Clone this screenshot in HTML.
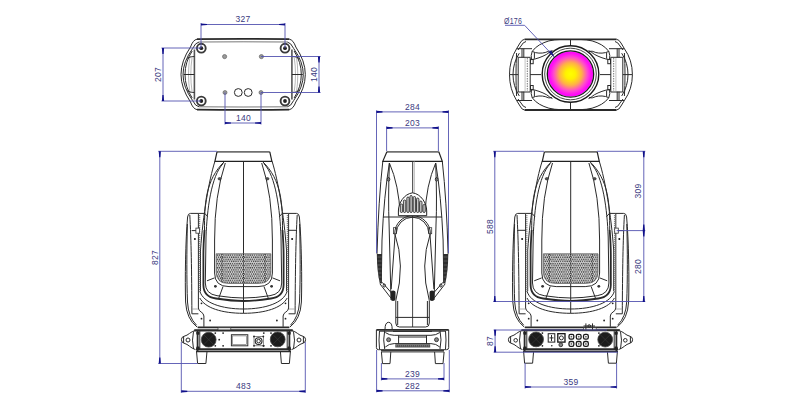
<!DOCTYPE html>
<html><head><meta charset="utf-8">
<style>
html,body{margin:0;padding:0;background:#fff;width:800px;height:415px;overflow:hidden}
svg{display:block}
.d{fill:none;stroke:#2a2a2a;stroke-width:1}
.t{fill:none;stroke:#2a2a2a;stroke-width:1.8}
.m{fill:none;stroke:#5454b0;stroke-width:0.9}
.a{fill:#10108a;stroke:none}
.x{font-family:"Liberation Sans",sans-serif;font-size:8.5px;fill:#3a3a80;letter-spacing:0.3px}
</style></head>
<body>
<svg width="800" height="415" viewBox="0 0 800 415">
<defs>
<radialGradient id="lens" cx="0.5" cy="0.5" r="0.5">
<stop offset="0" stop-color="#ffff00"/>
<stop offset="0.22" stop-color="#fff200"/>
<stop offset="0.5" stop-color="#ffb048"/>
<stop offset="0.75" stop-color="#ff48d0"/>
<stop offset="0.9" stop-color="#ff10f4"/>
<stop offset="1" stop-color="#ff00ff"/>
</radialGradient>
<marker id="ar" viewBox="0 0 10 6" refX="10" refY="3" markerWidth="7" markerHeight="3" orient="auto-start-reverse" markerUnits="userSpaceOnUse">
<path d="M0,0 L10,3 L0,6 z" fill="#3030a0"/>
</marker>
<pattern id="hex" x="0" y="0" width="2.2" height="4.2" patternUnits="userSpaceOnUse">
<rect width="2.2" height="4.2" fill="#d8d8d8"/>
<circle cx="0.55" cy="1.05" r="0.75" fill="#3a3a3a"/><circle cx="1.65" cy="3.15" r="0.75" fill="#3a3a3a"/>
</pattern>
</defs>

<!-- ================= VIEW 1 : bottom view ================= -->
<g id="v1">
<path class="t" d="M197,39.2 Q243,38.7 289.3,39.2 M197,109.6 Q243,110.1 289.3,109.6"/>
<path d="M199,42 Q243,41.6 287.3,42 M199,106.8 Q243,107.2 287.3,106.8" stroke="#555" stroke-width="0.8" fill="none"/>
<g id="h1">
<path class="d" d="M197,39.2 Q193,39.8 190.5,47 Q181,61 181,74.5 Q181,88 190.5,102 Q193,109 197,109.6" stroke-width="1.2"/>
<path class="d" d="M199,42 Q195.5,42.5 192.6,48.5 Q183,62 183,74.5 Q183,87 192.6,100.5 Q195.5,106.5 199,106.8" stroke-width="0.8"/>
<path d="M194.4,49.5 V99.5" stroke="#555" stroke-width="1.6" fill="none"/>
<path class="d" d="M192.2,51 Q185,62 185,74.5 Q185,87 192.2,98" stroke-width="0.6"/>
<path d="M190,56 Q188.5,65 188.5,74.5 Q188.5,84 190,93 M192,58 Q190.8,66 190.8,74.5 Q190.8,83 192,91" stroke="#888" stroke-width="0.6" fill="none"/>
<path class="d" d="M183.5,74.5 H194.4" stroke-width="0.7"/>
<path class="d" d="M187.5,58.5 Q189,56.5 194.4,56.5 M187.5,90.5 Q189,92.5 194.4,92.5" stroke-width="0.8"/>
</g>
<use href="#h1" transform="matrix(-1,0,0,1,486.3,0)"/>
<g fill="none" stroke="#3a3a3a" stroke-width="1.9">
<circle cx="201.3" cy="48.2" r="4.4"/><circle cx="285" cy="48.2" r="4.4"/>
<circle cx="201.3" cy="101" r="4.4"/><circle cx="285" cy="101" r="4.4"/>
</g>
<g fill="#222"><circle cx="201.3" cy="48.2" r="1.9"/><circle cx="285" cy="48.2" r="1.9"/><circle cx="201.3" cy="101" r="1.9"/><circle cx="285" cy="101" r="1.9"/></g>
<g fill="#999" stroke="#555" stroke-width="0.6">
<circle cx="224.6" cy="56.6" r="2.1"/><circle cx="261.4" cy="56.6" r="2.1"/>
<circle cx="225" cy="92.5" r="2"/><circle cx="261" cy="92.5" r="2"/>
</g>
<circle class="d" cx="238.3" cy="92.5" r="3.9"/><circle class="d" cx="248.2" cy="92.5" r="3.9"/>
<!-- dims -->
<path class="m" d="M201,23 V48 M285,23 V48 M201,24.5 H285"/>
<path class="a" d="M201,24.5 l0,-1.1 l6,0.5 v1.2 l-6,0.5z M285,24.5 l0,-1.1 l-6,0.5 v1.2 l6,0.5z"/>
<text class="x" x="243" y="21.9" text-anchor="middle">327</text>
<path class="m" d="M161.5,48 H201 M161.5,101 H201 M163,48 V101"/>
<path class="a" d="M163,48 l-1.1,0 l0.5,6 h1.2 l0.5,-6z M163,101 l-1.1,0 l0.5,-6 h1.2 l0.5,6z"/>
<text class="x" transform="translate(161,74.5) rotate(-90)" text-anchor="middle">207</text>
<path class="m" d="M261,56.5 H320.5 M261,92.5 H320.5 M319,56.5 V92.5"/>
<path class="a" d="M319,56.5 l-1.1,0 l0.5,6 h1.2 l0.5,-6z M319,92.5 l-1.1,0 l0.5,-6 h1.2 l0.5,6z"/>
<text class="x" transform="translate(316.5,74.5) rotate(-90)" text-anchor="middle">140</text>
<path class="m" d="M225,92.5 V124.5 M261,92.5 V124.5 M225,123 H261"/>
<path class="a" d="M225,123 l0,-1.1 l6,0.5 v1.2 l-6,0.5z M261,123 l0,-1.1 l-6,0.5 v1.2 l6,0.5z"/>
<text class="x" x="243.5" y="121" text-anchor="middle">140</text>
</g>

<!-- ================= VIEW 2 : front of head ================= -->
<g id="v2">
<path class="t" d="M524.6,39.3 H616.5 M524.6,110 H616.5"/>
<path class="d" d="M524.6,39.3 Q522,39.5 520,43 L516.6,48.7 Q509.5,60 509.5,74.6 Q509.5,89 516.6,100.5 L520,106 Q522,110 524.6,110"/>
<path class="d" d="M616.5,39.3 Q619,39.5 621,43 L624.4,48.7 Q632.4,60 632.4,74.6 Q632.4,89 624.4,100.5 L621,106 Q619,110 616.5,110"/>
<path class="d" d="M526,41.5 Q523,42 521,46 L518,50 M615,41.5 Q618,42 620,46 L623,50 M526,107.5 Q523,107 521,103 L518,99 M615,107.5 Q618,107 620,103 L623,99"/>
<path class="d" d="M519.3,53.2 Q513,63 513,74.6 Q513,86 519.3,96 M621.7,53.2 Q628,63 628,74.6 Q628,86 621.7,96"/>
<path class="d" d="M516.6,53 Q516,63 516,74.6 Q516,86 516.6,96 M624.4,53 Q625,63 625,74.6 Q625,86 624.4,96"/>
<path class="d" d="M516.6,48.7 H532 M516.6,100.5 H532 M624.4,48.7 H609 M624.4,100.5 H609"/>
<path class="d" d="M522,48.7 V57.6 M523.8,48.7 V57.6 M522,91.6 V100.5 M523.8,91.6 V100.5 M619,48.7 V57.6 M617.2,48.7 V57.6 M619,91.6 V100.5 M617.2,91.6 V100.5"/>
<path class="d" d="M518.2,57.3 H530.2 V92 H518.2z M610.8,57.3 H622.8 V92 H610.8z"/>
<path d="M527.3,58 V91 M613.7,58 V91" stroke="#777" stroke-width="1" stroke-dasharray="1.5 1"/><path d="M525.1,58 V91 M615.9,58 V91" stroke="#999" stroke-width="0.6"/>
<path class="d" d="M509.5,74.6 H518.2 M622.8,74.6 H632.4 M530.2,74.6 H541 M610.8,74.6 H600"/>
<rect x="530.5" y="59.4" width="2.7" height="4.3" class="d"/><rect x="607.8" y="59.4" width="2.7" height="4.3" class="d"/>
<rect x="530.5" y="85.5" width="2.7" height="4.3" class="d"/><rect x="607.8" y="85.5" width="2.7" height="4.3" class="d"/>
<g id="wg">
<path class="d" d="M532.2,51.4 C536,46 542,43 548.9,40.9 Q555,39.5 560,39.5"/>
<path class="d" d="M532.2,51.4 C536,53.5 542,53.5 545.2,52.5 Q549,50.5 552,51.4"/>
<path class="d" d="M531.5,59.7 C536,59 542,57 546.7,54.3 Q549.5,52 552.5,50.5"/>
<path class="d" d="M532.2,51.4 L531.2,55.5 L531.5,59.7 M534.4,52.5 V58.6"/>
</g>
<use href="#wg" transform="matrix(-1,0,0,1,1141,0)"/>
<use href="#wg" transform="matrix(1,0,0,-1,0,149.1)"/>
<use href="#wg" transform="matrix(-1,0,0,-1,1141,149.1)"/>
<path class="d" d="M570.5,39.3 V45.5 M570.5,103 V110"/>
<circle cx="570.5" cy="74" r="22.6" fill="url(#lens)"/>
<circle cx="570.5" cy="74" r="23.2" fill="none" stroke="#1a1a1a" stroke-width="1.3"/>
<circle cx="570.5" cy="74" r="25.8" fill="none" stroke="#333" stroke-width="0.9"/>
<circle cx="570.5" cy="74" r="28.3" fill="none" stroke="#1a1a1a" stroke-width="1.4"/>
<path class="m" d="M505,25.3 H524.6 L554,56.6"/>
<path d="M554.5,57.2 L548.5,52.6 L551.2,50.2z" fill="#1a1a80"/>
<text class="x" x="504" y="23.6" textLength="18" lengthAdjust="spacingAndGlyphs">Ø176</text>
</g>

<!-- ================= VIEW 3 : front view ================= -->
<g id="v3">
<g id="hd">
<!-- cap -->
<path d="M217,151.8 H269.8" stroke="#707070" stroke-width="1.7" fill="none"/><path d="M269.8,151.8 L271.9,161.4 H214.9 L217,151.8" fill="none" stroke="#222" stroke-width="1.2"/>
<path class="d" d="M243.5,161.5 V313.3"/>
<!-- left half -->
<g id="hh">
<path class="d" d="M214.9,161.4 C209,180 203,215 200.5,250 V291"/>
<path class="d" d="M224.6,161.4 C205,180 204.5,205 204.5,230"/>
<path class="t" d="M204.5,230 Q203.4,245 203.4,255 V285 Q203.6,297 216,298.5 Q232,301 243.5,301"/>
<path class="d" d="M223.2,163.5 C211,176 207,210 206,237 L205.3,283 Q205.5,294 217,295.7 Q232,298 243.5,298"/>
<path class="d" d="M225.3,163 Q214.5,195 214.6,240 V273 Q214.6,286.6 229,286.6 H243.5"/>
<ellipse cx="219.6" cy="178.8" rx="1.6" ry="1.2" fill="#555" stroke="#222" stroke-width="0.6"/>
<path class="d" d="M223,286.6 L218.8,298 M207,280.8 L214.5,277.9"/>
<circle cx="215.4" cy="286.3" r="1.4" fill="#333"/>
<path class="d" d="M199.8,291 C203,303 222,309 243.5,309 M199.8,298 C205,308 222,313.3 243.5,313.3"/>
<!-- arm -->
<path class="d" d="M198.4,213.4 H190.5 Q188,213.4 187.6,217 C185.5,240 184.9,280 185.6,302 Q186.5,319 197,327"/>
<path class="d" d="M187.4,224 C186.7,250 186.6,280 187.5,302 Q188.3,317 196.5,325.2" stroke-width="0.8"/>

<path class="d" d="M189.8,215 C191.2,240 191.7,270 191.9,313.8 H198.4"/>
<path d="M191.9,309 H198.4" stroke="#999" stroke-width="0.8"/>
<path class="d" d="M198.4,213.4 V308 C198.4,312 203.9,312 203.9,316 V326.8 M198.4,213.4 H204.8 L207.7,216.7"/>
<path d="M199.6,215 V292" stroke="#8a8a8a" stroke-width="1.3" stroke-dasharray="1.2 0.8" fill="none"/>
<circle cx="194.9" cy="239" r="1" fill="#111"/>
<g fill="#222"><circle cx="201.5" cy="303.3" r="0.9"/><circle cx="201.5" cy="318.7" r="0.9"/><circle cx="210.1" cy="320.5" r="0.9"/></g>
</g>
<use href="#hh" transform="matrix(-1,0,0,1,487,0)"/>
<!-- vent grid -->

<path d="M216.2,253.8 H270.8 V272 Q270.8,283.5 258,283.5 H229 Q216.2,283.5 216.2,272z" fill="url(#hex)" stroke="#555" stroke-width="0.7"/>
<path d="M222,254 V283 M243.5,254 V283 M265,254 V283" stroke="#222" stroke-width="1" stroke-dasharray="1 1.1" fill="none"/>
<!-- arm bottom plate -->
<path class="t" d="M197.6,327.3 H289.4"/>
<path class="d" d="M194.3,329.8 H292.7"/>
<rect x="218" y="327.8" width="12.8" height="2.2" fill="#fff" stroke="#333" stroke-width="0.7"/>
</g>
<rect x="195.9" y="228.1" width="3.6" height="5.1" fill="#fff" stroke="#333" stroke-width="0.8"/>
<path class="d" d="M191.7,230.6 H195.9"/>
<path class="d" d="M288,230.3 H297"/>
<!-- base -->
<path class="t" d="M194.3,330.6 H292.7 M196,349.1 H291 M196,351.3 H291"/>
<path class="d" d="M195.5,330.4 C190.5,331.5 188.5,335.3 184,336.3 Q181.4,336.9 181.4,339.7 Q181.4,342.6 184,343.2 C188.5,344.2 190.5,348.2 195.5,349.6"/>
<path class="d" d="M291.5,330.4 C296.5,331.5 298.5,335.3 303,336.3 Q305.6,336.9 305.6,339.7 Q305.6,342.6 303,343.2 C298.5,344.2 296.5,348.2 291.5,349.6"/>
<path class="d" d="M183.6,336.5 V343 M303.4,336.5 V343"/>
<circle cx="188" cy="340" r="2" class="d"/><circle cx="299" cy="340" r="2" class="d"/>
<path class="d" d="M193.5,331.5 Q191.5,340 193.5,349 M293.5,331.5 Q295.5,340 293.5,349"/>
<path class="t" d="M197.6,330.6 V351.3 M289.4,330.6 V351.3"/>
<path class="d" d="M199.8,331 V349 M287.2,331 V349"/>

<g fill="#222"><rect x="196.3" y="331.8" width="3.2" height="3" rx="0.8"/><rect x="196.3" y="346.6" width="3.2" height="3" rx="0.8"/><rect x="287.5" y="331.8" width="3.2" height="3" rx="0.8"/><rect x="287.5" y="346.6" width="3.2" height="3" rx="0.8"/>
<circle cx="215.3" cy="333.1" r="0.9"/><circle cx="223.1" cy="333.1" r="0.9"/><circle cx="219.2" cy="339.7" r="0.9"/><circle cx="215.3" cy="345.8" r="0.9"/><circle cx="223.1" cy="345.8" r="0.9"/>
<circle cx="263.8" cy="333.1" r="0.9"/><circle cx="271" cy="333.1" r="0.9"/><circle cx="271" cy="345.8" r="0.9"/><circle cx="263.8" cy="345.8" r="0.9"/></g>
<circle cx="208.7" cy="339.7" r="7.4" fill="#1c1c1c" stroke="#444" stroke-width="0.8"/>
<circle cx="277.7" cy="339.4" r="7.4" fill="#1c1c1c" stroke="#444" stroke-width="0.8"/>
<g stroke="#3a3a3a" stroke-width="0.6" fill="none"><path d="M204,335 L213.4,344.4 M213.4,335 L204,344.4 M273,334.7 L282.4,344.1 M282.4,334.7 L273,344.1"/></g>
<rect x="231.4" y="334.7" width="16.4" height="11.1" fill="none" stroke="#333" stroke-width="1"/>
<rect x="232.6" y="335.9" width="14" height="8.7" fill="none" stroke="#666" stroke-width="0.6"/>
<rect x="254" y="336.5" width="9.3" height="9.3" fill="none" stroke="#555" stroke-width="0.7"/><g fill="#222"><circle cx="254" cy="336.5" r="0.9"/><circle cx="263.3" cy="336.5" r="0.9"/><circle cx="254" cy="345.8" r="0.9"/><circle cx="263.3" cy="345.8" r="0.9"/></g>
<circle cx="258.6" cy="341.1" r="3.4" fill="none" stroke="#222" stroke-width="1.1"/><circle cx="258.6" cy="341.1" r="1.8" class="d"/>
<path class="d" d="M196.5,351.3 L197.6,363.5 H205.9 L207,351.3 M280.4,351.3 L281.4,363.5 H289.4 L290.4,351.3"/>
<!-- dims -->
<path class="m" d="M158.3,151.3 H217 M158.3,363.5 H197.6 M159.8,151.3 V363.5"/>
<path class="a" d="M159.8,151.3 l-1.1,0 l0.5,6 h1.2 l0.5,-6z M159.8,363.5 l-1.1,0 l0.5,-6 h1.2 l0.5,6z"/>
<text class="x" transform="translate(157.6,257.4) rotate(-90)" text-anchor="middle">827</text>
<path class="m" d="M181.3,342 V392.8 M305.3,342 V392.8 M181.3,391.3 H305.3"/>
<path class="a" d="M181.3,391.3 l0,-1.1 l6,0.5 v1.2 l-6,0.5z M305.3,391.3 l0,-1.1 l-6,0.5 v1.2 l6,0.5z"/>
<text class="x" x="243.5" y="388.5" text-anchor="middle">483</text>
</g>

<!-- ================= VIEW 4 : side view ================= -->
<g id="v4">
<path d="M386.9,151.8 H438.8" stroke="#707070" stroke-width="1.7" fill="none"/><path d="M438.8,151.8 L442.3,161.3 H382.8 L386.9,151.8" fill="none" stroke="#222" stroke-width="1.2"/>
<path d="M412.6,161.2 V327" stroke="#333" stroke-width="0.9" fill="none"/><path d="M414.2,161.2 V192.8" stroke="#999" stroke-width="0.8" fill="none"/>
<g id="sh">
<path class="d" d="M382.8,161.3 Q378.5,200 377,253.9"/>
<path class="d" d="M389.4,163 Q384,195 382,240 L381.3,282.8"/>
<path class="d" d="M389.4,163 Q388,200 389.1,225 L391,300"/>
<path class="d" d="M389.4,163 Q399,185 400.2,215.7"/>
<ellipse cx="388.5" cy="179.3" rx="1.3" ry="1.8" class="d"/>
<path d="M376.8,253.9 H382 L381.8,283.5 H379.8 Q377,272 376.8,253.9z" fill="#2e2e2e"/>
<path d="M377.5,257 H381.5 M377.5,261 H381.5 M377.6,265 H381.5 M377.8,269 H381.5 M378,273 H381.5 M378.5,277 H381.5 M379,281 H381.5" stroke="#777" stroke-width="0.6"/>
<path class="d" d="M379.9,283.8 L390.8,297.9 M382.2,282.3 L392.4,294"/>
<ellipse cx="384.3" cy="285.5" rx="1.2" ry="1.5" class="d"/>
<path class="d" d="M394.75,233.5 Q405.5,265 395.8,300.5 M395.5,229 L391.2,289"/>
<rect x="393.4" y="227.7" width="3" height="6" fill="#fff" stroke="#333" stroke-width="0.8"/>
<path d="M390.8,292 Q390.8,290.5 393.1,290.5 Q395.5,290.5 395.5,292 V298.5 Q395.5,301 393.1,301 Q390.8,301 390.8,298.5z" fill="#222"/>


</g>
<use href="#sh" transform="matrix(-1,0,0,1,825.1,0)"/>
<path class="d" d="M394.75,233.5 A17.8,17.8 0 0 1 430.35,233.5 M396.25,233.5 A16.3,16.3 0 0 1 428.85,233.5"/>
<path class="d" d="M383,217 H442"/>
<path d="M398.4,215.7 V211 C398.4,203 404,194 412.55,192.8 C421,194 426.7,203 426.7,211 V215.7z" fill="#fff" stroke="#222" stroke-width="1"/>
<g fill="#c8c8c8" stroke="#1a1a1a" stroke-width="0.8">
<rect x="400.3" y="204" width="2.4" height="8.5" rx="1.2"/>
<rect x="403.4" y="200" width="2.4" height="12.5" rx="1.2"/>
<rect x="406.8" y="197" width="2.4" height="15.5" rx="1.2"/>
<rect x="409.9" y="195.5" width="2.4" height="17" rx="1.2"/>
<rect x="413.2" y="196.5" width="2.4" height="16" rx="1.2"/>
<rect x="416.5" y="198" width="2.4" height="14.5" rx="1.2"/>
<rect x="419.6" y="201" width="2.4" height="11.5" rx="1.2"/>
<rect x="422.9" y="204.5" width="2.4" height="8" rx="1.2"/>
</g>
<!-- column -->
<path class="d" d="M395.8,300.5 V323 Q395.8,327 399.5,327 H425.6 Q429.3,327 429.3,323 V300.5 M397.7,301 V325 M427.4,301 V325 M395.8,317.4 H429.3"/>
<path class="d" d="M385,329.5 Q385,322.3 388.6,322.3 Q392.2,322.3 392.2,329.5"/>
<!-- base -->
<path class="t" d="M376.4,329.8 H448.7"/>
<path class="d" d="M376.4,329.8 V347.5 Q376.4,349.7 378.5,349.7 H446.5 Q448.7,349.7 448.7,347.5 V329.8"/>
<path class="d" d="M384.7,330.5 Q382.7,340 384.7,349 M440,330.5 Q442,340 440,349 M379.5,331 Q378.5,340 379.5,349 M445.5,331 Q446.5,340 445.5,349"/>
<path class="d" d="M385.3,332.5 Q389,335.3 394.2,335.3 H430.9 Q436,335.3 439.8,332.5 M385.3,347 Q389,343.6 394.2,343.6 H430.9 Q436,343.6 439.8,347"/>
<circle cx="388.6" cy="339.7" r="2" fill="#888" stroke="#222" stroke-width="0.8"/>
<circle cx="436.5" cy="339.7" r="2" fill="#888" stroke="#222" stroke-width="0.8"/>
<path class="d" d="M398.6,337 H426.5 M398.6,335.3 V343.6 M426.5,335.3 V343.6"/>
<path class="d" d="M393,331.4 H432 M380,331.2 H445"/>
<rect x="395.3" y="344.2" width="34.9" height="3.3" fill="#555"/>
<path d="M396,345.8 H429.5" stroke="#999" stroke-width="0.7" stroke-dasharray="1 1"/>
<path class="d" d="M381,350.6 H444 M381,351.9 H444"/>
<path class="d" d="M381.4,351.9 L382.5,363.6 H390 L390.8,351.9 M434.6,351.9 L435.4,363.6 H443 L444.1,351.9"/>
<!-- dims -->
<path class="m" d="M376.5,110.4 V253 M448.5,110.4 V253 M376.5,111.9 H448.5"/>
<path class="a" d="M376.5,111.9 l0,-1.1 l6,0.5 v1.2 l-6,0.5z M448.5,111.9 l0,-1.1 l-6,0.5 v1.2 l6,0.5z"/>
<text class="x" x="412.5" y="110" text-anchor="middle">284</text>
<path class="m" d="M386.6,126.4 V151 M438.4,126.4 V151 M386.6,127.9 H438.4"/>
<path class="a" d="M386.6,127.9 l0,-1.1 l6,0.5 v1.2 l-6,0.5z M438.4,127.9 l0,-1.1 l-6,0.5 v1.2 l6,0.5z"/>
<text class="x" x="412.5" y="126" text-anchor="middle">203</text>
<path class="m" d="M381.4,363 V380.4 M444,363 V380.4 M381.4,378.9 H444"/>
<path class="a" d="M381.4,378.9 l0,-1.1 l6,0.5 v1.2 l-6,0.5z M444,378.9 l0,-1.1 l-6,0.5 v1.2 l6,0.5z"/>
<text class="x" x="412.5" y="376.5" text-anchor="middle">239</text>
<path class="m" d="M376.6,350 V392.3 M449.3,350 V392.3 M376.6,390.8 H449.3"/>
<path class="a" d="M376.6,390.8 l0,-1.1 l6,0.5 v1.2 l-6,0.5z M449.3,390.8 l0,-1.1 l-6,0.5 v1.2 l6,0.5z"/>
<text class="x" x="412.5" y="388.5" text-anchor="middle">282</text>
</g>

<!-- ================= VIEW 5 : back view ================= -->
<g id="v5">
<use href="#hd" transform="matrix(-1,0,0,1,814.2,0)"/>
<rect x="614.7" y="228.1" width="3.6" height="5.1" fill="#fff" stroke="#333" stroke-width="0.8"/>
<path class="d" d="M618.3,230.6 H623.2 M517.2,230.3 H526.2"/>
<!-- base -->
<path class="t" d="M521.5,330.4 H619.5 M523,349.1 H618 M523,351.3 H618"/>
<path class="d" d="M522.5,330.4 C517.5,331.5 515.5,335.3 511,336.3 Q508.4,336.9 508.4,339.7 Q508.4,342.6 511,343.2 C515.5,344.2 517.5,348.2 522.5,349.6"/>
<path class="d" d="M618.5,330.4 C623.5,331.5 625.5,335.3 630,336.3 Q632.6,336.9 632.6,339.7 Q632.6,342.6 630,343.2 C625.5,344.2 623.5,348.2 618.5,349.6"/>
<path class="d" d="M510.6,336.5 V343 M630.4,336.5 V343"/>

<path class="d" d="M520.5,331.5 Q518.5,340 520.5,349 M620.5,331.5 Q622.5,340 620.5,349"/>
<path class="t" d="M524.6,330.6 V351.3 M616.4,330.6 V351.3"/>
<path class="d" d="M526.8,331 V349 M614.2,331 V349"/>
<circle cx="515.7" cy="340.3" r="1.8" class="d"/><circle cx="625.3" cy="340.3" r="1.8" class="d"/>
<g fill="#222"><rect x="523.3" y="331.8" width="3.2" height="3" rx="0.8"/><rect x="523.3" y="346.6" width="3.2" height="3" rx="0.8"/><rect x="614.5" y="331.8" width="3.2" height="3" rx="0.8"/><rect x="614.5" y="346.6" width="3.2" height="3" rx="0.8"/></g>
<circle cx="536.1" cy="339.4" r="7.4" fill="#1c1c1c" stroke="#444" stroke-width="0.8"/>
<circle cx="605.2" cy="339.6" r="7.4" fill="#1c1c1c" stroke="#444" stroke-width="0.8"/>
<g stroke="#3a3a3a" stroke-width="0.6" fill="none"><path d="M531.4,334.7 L540.8,344.1 M540.8,334.7 L531.4,344.1 M600.5,334.9 L609.9,344.3 M609.9,334.9 L600.5,344.3"/></g>
<rect x="548.2" y="333.7" width="6.6" height="8.4" fill="none" stroke="#222" stroke-width="1"/>
<path class="d" d="M549.5,337.9 H553.5 M551.5,335 V341"/>
<rect x="557.8" y="333.7" width="7.2" height="8.4" fill="none" stroke="#111" stroke-width="1.3"/>
<circle cx="561.4" cy="337.9" r="2" class="d"/>
<circle cx="551.8" cy="345.7" r="0.8" fill="#222"/><g fill="#222"><circle cx="542.4" cy="333.1" r="0.9"/><circle cx="542.4" cy="345.8" r="0.9"/><circle cx="598.9" cy="333.1" r="0.9"/><circle cx="598.9" cy="345.8" r="0.9"/></g>
<circle cx="560.8" cy="344.8" r="1.9" fill="#888" stroke="#222" stroke-width="0.8"/>
<g fill="none" stroke="#1a1a1a" stroke-width="1.3">
<rect x="569" y="334.3" width="4.8" height="4.8" rx="1.6"/><rect x="576.3" y="334.3" width="4.8" height="4.8" rx="1.6"/><rect x="583.5" y="334.3" width="4.8" height="4.8" rx="1.6"/>
<rect x="569" y="341.5" width="4.8" height="4.8" rx="1.6"/><rect x="576.3" y="341.5" width="4.8" height="4.8" rx="1.6"/><rect x="583.5" y="341.5" width="4.8" height="4.8" rx="1.6"/>
</g>
<g fill="#666"><circle cx="571.4" cy="336.7" r="0.9"/><circle cx="578.7" cy="336.7" r="0.9"/><circle cx="585.9" cy="336.7" r="0.9"/><circle cx="571.4" cy="343.9" r="0.9"/><circle cx="578.7" cy="343.9" r="0.9"/><circle cx="585.9" cy="343.9" r="0.9"/></g>
<path class="d" d="M585.9,330 V323.4 M592.5,330 V323.4 M583.5,326 H595"/>
<circle cx="589.2" cy="326" r="1.3" class="d"/>
<path class="d" d="M523.6,351.3 L524.6,363.2 H532.6 L533.6,351.3 M607.4,351.3 L608.4,363.2 H616.4 L617.4,351.3"/>
<!-- dims -->
<path class="m" d="M493.3,151.3 H544 M493.3,301.5 H645.3 M494.8,151.3 V301.5"/>
<path class="a" d="M494.8,151.3 l-1.1,0 l0.5,6 h1.2 l0.5,-6z M494.8,302 l-1.1,0 l0.5,-6 h1.2 l0.5,6z"/>
<text class="x" transform="translate(492.5,226.5) rotate(-90)" text-anchor="middle">588</text>
<path class="m" d="M597,151.3 H645.3 M616.6,230.6 H645.3 M643.8,151.3 V301.5"/>
<path class="a" d="M643.8,151.3 l-1.1,0 l0.5,6 h1.2 l0.5,-6z M643.8,230.6 l-1.1,0 l0.5,-6 h1.2 l0.5,6z M643.8,230.6 l-1.1,0 l0.5,6 h1.2 l0.5,-6z M643.8,302 l-1.1,0 l0.5,-6 h1.2 l0.5,6z"/>
<text class="x" transform="translate(641,191) rotate(-90)" text-anchor="middle">309</text>
<text class="x" transform="translate(641,266.4) rotate(-90)" text-anchor="middle">280</text>
<path class="m" d="M493.6,330 H607 M493.6,352.2 H618 M495.1,330 V352.2"/>
<path class="a" d="M495.1,329.8 l-1.1,0 l0.5,6 h1.2 l0.5,-6z M495.1,352.3 l-1.1,0 l0.5,-6 h1.2 l0.5,6z"/>
<text class="x" transform="translate(493,341) rotate(-90)" text-anchor="middle">87</text>
<path class="m" d="M525.1,363 V388.5 M616.6,363 V388.5 M525.1,387 H616.6"/>
<path class="a" d="M525.1,387 l0,-1.1 l6,0.5 v1.2 l-6,0.5z M616.6,387 l0,-1.1 l-6,0.5 v1.2 l6,0.5z"/>
<text class="x" x="571" y="384.8" text-anchor="middle">359</text>
</g>
</svg>
</body></html>
